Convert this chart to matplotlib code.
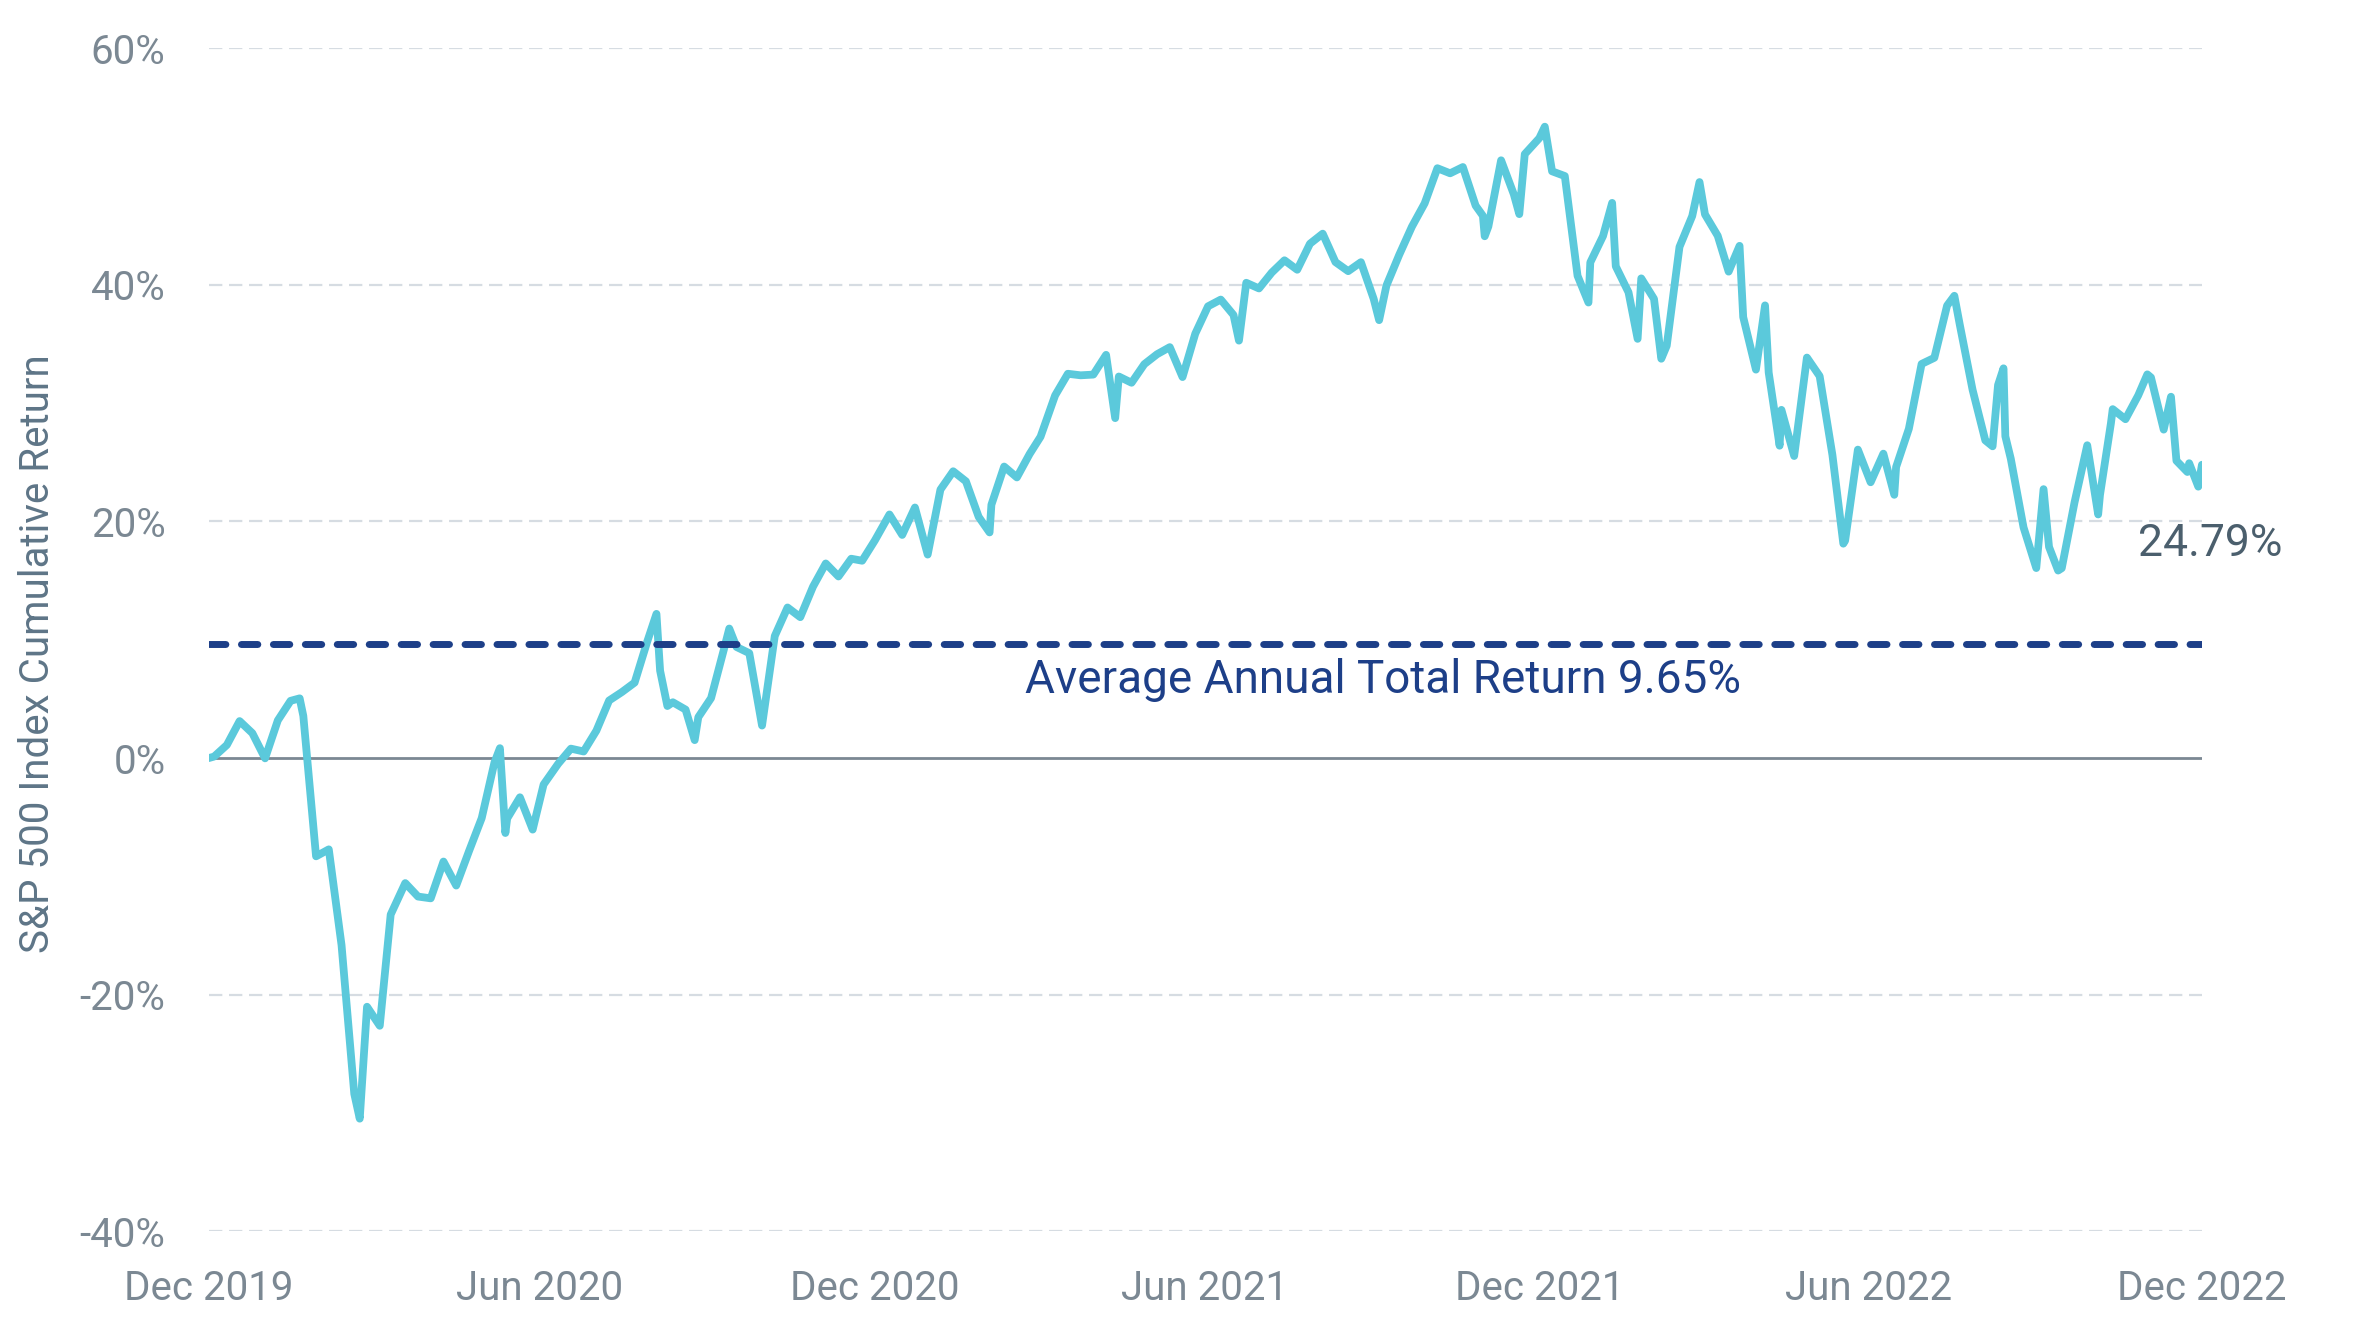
import matplotlib.pyplot as plt
import numpy as np

plt.rcParams['font.family'] = ['Roboto', 'DejaVu Sans']

# S&P 500 total return, cumulative % since 31 Dec 2019 (~weekly)
dates = [
    '2019-12-31', '2020-01-03', '2020-01-10', '2020-01-17', '2020-01-24', '2020-01-31',
    '2020-02-07', '2020-02-14', '2020-02-19', '2020-02-21', '2020-02-28', '2020-03-06',
    '2020-03-13', '2020-03-20', '2020-03-23', '2020-03-27', '2020-04-03', '2020-04-09',
    '2020-04-17', '2020-04-24', '2020-05-01', '2020-05-08', '2020-05-15', '2020-05-22',
    '2020-05-29', '2020-06-05', '2020-06-08', '2020-06-11', '2020-06-12', '2020-06-19',
    '2020-06-26', '2020-07-02', '2020-07-10', '2020-07-17', '2020-07-24', '2020-07-31',
    '2020-08-07', '2020-08-14', '2020-08-21', '2020-08-28', '2020-09-02', '2020-09-04',
    '2020-09-08', '2020-09-11', '2020-09-18', '2020-09-23', '2020-09-25', '2020-10-02',
    '2020-10-09', '2020-10-12', '2020-10-16', '2020-10-23', '2020-10-30', '2020-11-06',
    '2020-11-13', '2020-11-20', '2020-11-27', '2020-12-04', '2020-12-11', '2020-12-18',
    '2020-12-24', '2020-12-31',
    '2021-01-08', '2021-01-15', '2021-01-22', '2021-01-29', '2021-02-05', '2021-02-12',
    '2021-02-19', '2021-02-26', '2021-03-04', '2021-03-05', '2021-03-12', '2021-03-19',
    '2021-03-26', '2021-04-01', '2021-04-09', '2021-04-16', '2021-04-23', '2021-04-30',
    '2021-05-07', '2021-05-12', '2021-05-14', '2021-05-21', '2021-05-28', '2021-06-04',
    '2021-06-11', '2021-06-18', '2021-06-25', '2021-07-02', '2021-07-09', '2021-07-16',
    '2021-07-19', '2021-07-23', '2021-07-30', '2021-08-06', '2021-08-13', '2021-08-20',
    '2021-08-27', '2021-09-03', '2021-09-10', '2021-09-17', '2021-09-24', '2021-10-01',
    '2021-10-04', '2021-10-08', '2021-10-15', '2021-10-22', '2021-10-29', '2021-11-05',
    '2021-11-12', '2021-11-19', '2021-11-26', '2021-11-30', '2021-12-01', '2021-12-03',
    '2021-12-10', '2021-12-17', '2021-12-20', '2021-12-23', '2021-12-31',
    '2022-01-03', '2022-01-07', '2022-01-14', '2022-01-21', '2022-01-27', '2022-01-28',
    '2022-02-04', '2022-02-09', '2022-02-11', '2022-02-18', '2022-02-23', '2022-02-25',
    '2022-03-04', '2022-03-08', '2022-03-11', '2022-03-18', '2022-03-25', '2022-03-29',
    '2022-04-01', '2022-04-08', '2022-04-14', '2022-04-20', '2022-04-22', '2022-04-29',
    '2022-05-04', '2022-05-06', '2022-05-12', '2022-05-13', '2022-05-20', '2022-05-27',
    '2022-06-03', '2022-06-10', '2022-06-16', '2022-06-17', '2022-06-24', '2022-07-01',
    '2022-07-08', '2022-07-14', '2022-07-15', '2022-07-22', '2022-07-29', '2022-08-05',
    '2022-08-12', '2022-08-16', '2022-08-19', '2022-08-26', '2022-09-02', '2022-09-06',
    '2022-09-09', '2022-09-12', '2022-09-13', '2022-09-16', '2022-09-23', '2022-09-30',
    '2022-10-04', '2022-10-07', '2022-10-12', '2022-10-14', '2022-10-21', '2022-10-28',
    '2022-11-03', '2022-11-04', '2022-11-10', '2022-11-11', '2022-11-18', '2022-11-25',
    '2022-11-30', '2022-12-02', '2022-12-09', '2022-12-13', '2022-12-16', '2022-12-22',
    '2022-12-23', '2022-12-28', '2022-12-30',
]
returns = [
    0.0, 0.13, 1.11, 3.13, 2.11, -0.02,
    3.19, 4.84, 5.05, 3.57, -8.30, -7.71,
    -15.80, -28.38, -30.47, -21.01, -22.62, -13.22,
    -10.56, -11.70, -11.85, -8.74, -10.77, -7.87,
    -5.07, -0.37, 0.84, -6.33, -5.10, -3.31,
    -6.04, -2.23, -0.48, 0.80, 0.56, 2.32,
    4.87, 5.58, 6.38, 9.88, 12.19, 7.39,
    4.40, 4.72, 4.10, 1.52, 3.46, 5.07,
    9.16, 10.95, 9.39, 8.87, 2.75, 10.32,
    12.73, 11.91, 14.49, 16.45, 15.35, 16.85,
    16.68, 18.40,
    20.59, 18.86, 21.18, 17.20, 22.69, 24.24,
    23.39, 20.39, 19.07, 21.41, 24.64, 23.72,
    25.70, 27.16, 30.65, 32.48, 32.35, 32.41,
    34.08, 28.73, 32.25, 31.72, 33.29, 34.13,
    34.73, 32.20, 35.87, 38.18, 38.75, 37.45,
    35.28, 40.17, 39.69, 41.03, 42.07, 41.27,
    43.47, 44.32, 41.92, 41.15, 41.91, 38.81,
    37.01, 39.93, 42.52, 44.91, 46.88, 49.85,
    49.42, 49.95, 46.69, 45.83, 44.10, 44.92,
    50.52, 47.64, 45.97, 51.04, 52.39,
    53.36, 49.59, 49.19, 40.76, 38.50, 41.89,
    44.12, 46.92, 41.56, 39.36, 35.43, 40.54,
    38.81, 33.75, 34.85, 43.20, 45.81, 48.68,
    45.95, 44.14, 41.11, 43.29, 37.27, 32.83,
    38.26, 32.59, 26.40, 29.43, 25.53, 33.85,
    32.28, 25.63, 18.12, 18.38, 26.07, 23.31,
    25.73, 22.25, 24.60, 27.83, 33.31, 33.83,
    38.24, 39.07, 36.61, 31.13, 26.85, 26.35,
    31.53, 32.94, 27.20, 25.30, 19.50, 16.06,
    22.73, 17.85, 15.85, 16.05, 21.60, 26.44,
    20.59, 22.24, 28.29, 29.49, 28.64, 30.65,
    32.43, 32.17, 27.76, 30.54, 25.13, 24.18,
    24.92, 22.94, 24.79,
]
avg_return = 9.65
final_label = '24.79%'
tick_dates = ['2019-12-31', '2020-06-30', '2020-12-31', '2021-06-30',
              '2021-12-31', '2022-06-30', '2022-12-30']
tick_labels = ['Dec 2019', 'Jun 2020', 'Dec 2020', 'Jun 2021',
               'Dec 2021', 'Jun 2022', 'Dec 2022']
y_ticks = [-40, -20, 0, 20, 40, 60]

x = np.array(dates, dtype='datetime64[D]')

fig = plt.figure(figsize=(23.55, 13.29), dpi=100)
ax = fig.add_axes([0.0886, 0.0734, 0.8464, 0.8904])

grid_col = '#d6dce2'
for yv in y_ticks:
    if yv != 0:
        ax.axhline(yv, color=grid_col, lw=1.6, dashes=(6, 3), zorder=1)
ax.axhline(0, color='#7b8893', lw=2.0, zorder=2)

ax.plot(x, returns, color='#5bc9db', lw=5.6, solid_joinstyle='round',
        solid_capstyle='round', zorder=3)

ax.axhline(avg_return, color='#1d3f88', lw=5, dashes=(2.36, 2.24),
           dash_capstyle='round', zorder=4)
ax.text(np.datetime64('2021-10-06'), 6.6,
        'Average Annual Total Return %.2f%%' % avg_return,
        color='#1d3f88', fontsize=33, ha='center', va='center')
ax.text(np.datetime64('2022-11-25'), 18.1, final_label, color='#4b5f6d',
        fontsize=32, ha='left', va='center', clip_on=False)

ax.set_xlim(np.datetime64('2019-12-31'), np.datetime64('2022-12-30'))
ax.set_ylim(-40, 60)
ax.set_xticks(np.array(tick_dates, dtype='datetime64[D]'))
ax.set_xticklabels(tick_labels)
ax.set_yticks(y_ticks)
ax.set_yticklabels(['%d%%' % v for v in y_ticks])
ax.tick_params(axis='both', length=0, labelsize=29, labelcolor='#7b8893')
ax.tick_params(axis='y', pad=31)
ax.tick_params(axis='x', pad=27)
for s in ax.spines.values():
    s.set_visible(False)
ax.set_ylabel('S&P 500 Index Cumulative Return', fontsize=29, color='#5e7587',
              va='center')
ax.yaxis.set_label_coords(-0.0858, 0.4887)

fig.savefig('out.png', dpi=100)
